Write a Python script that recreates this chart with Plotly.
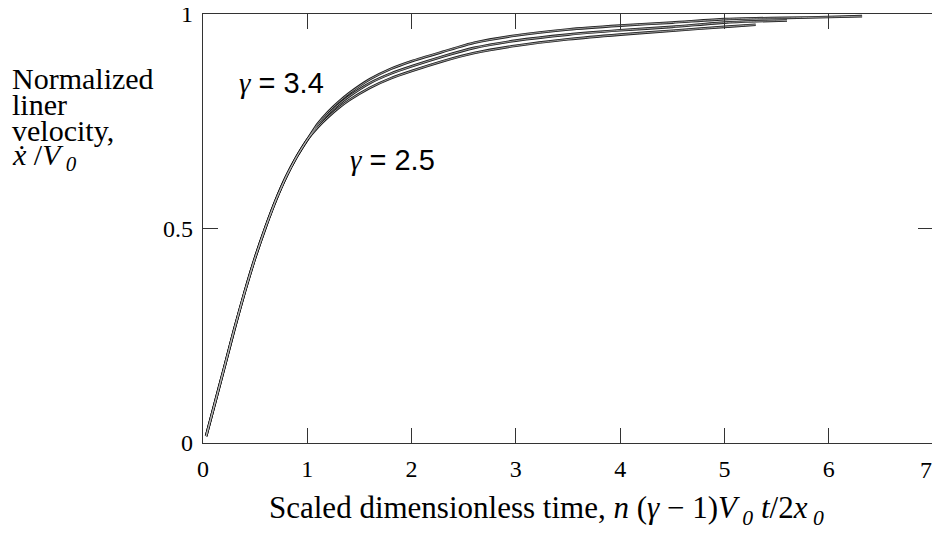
import plotly.graph_objects as go

# scaled dimensionless time
t_all = [0.03, 0.1, 0.2, 0.3, 0.4, 0.5, 0.6, 0.7, 0.8, 0.9, 1.0, 1.1, 1.2, 1.3,
         1.4, 1.6, 1.8, 2.0, 2.3, 2.6, 3.0, 3.5, 4.0, 4.5, 5.0, 5.3, 5.6, 6.0, 6.32]

# normalized liner velocity
v_early = [0.016, 0.08, 0.172, 0.265, 0.352, 0.432, 0.503, 0.567, 0.622, 0.668, 0.707]
v_low = v_early + [0.736, 0.760, 0.781, 0.799, 0.828, 0.850, 0.867, 0.890, 0.909,
                   0.926, 0.941, 0.952, 0.961, 0.970, 0.975]
v_mid = v_early + [0.740, 0.767, 0.789, 0.808, 0.839, 0.861, 0.878, 0.901, 0.921,
                   0.938, 0.952, 0.962, 0.970, 0.980, 0.983, 0.985]
v_top = v_early + [0.744, 0.772, 0.795, 0.815, 0.848, 0.872, 0.890, 0.912, 0.933,
                   0.950, 0.964, 0.973, 0.980, 0.988, 0.990, 0.991, 0.993, 0.995]

x_ticks = [0, 1, 2, 3, 4, 5, 6, 7]
y_ticks = [0, 0.5, 1]
y_title = ["Normalized", "liner", "velocity,", "<i>ẋ</i> /<i>V</i><sub><i> 0</i></sub>"]

serif = "Liberation Serif"
ink = "#1e1e1e"

fig = go.Figure()
for v in [v_low, v_mid, v_top]:
    fig.add_trace(go.Scatter(x=t_all[:len(v)], y=v, mode="lines",
                             line=dict(color=ink, width=2.6, shape="spline", smoothing=0.6),
                             showlegend=False))
for v in [v_low, v_mid, v_top]:
    fig.add_trace(go.Scatter(x=t_all[:len(v)], y=v, mode="lines",
                             line=dict(color="#b8b8b8", width=0.8, shape="spline", smoothing=0.6),
                             showlegend=False))

axis_common = dict(showline=True, linecolor="#333", linewidth=1.4, mirror="ticks",
                   ticks="inside", ticklen=15, tickwidth=1.2, tickcolor="#333",
                   showgrid=False, zeroline=False, automargin=False,
                   ticklabeloverflow="allow",
                   tickfont=dict(family=serif, size=24, color="black"))

# last x label sits at the page edge; it is drawn as an annotation a bit further in
x_text = [str(v) for v in x_ticks[:-1]] + [""]
fig.update_xaxes(range=[0, 7], tickvals=x_ticks, ticktext=x_text, ticklabelstandoff=4,
                 **axis_common)
fig.update_yaxes(range=[0, 1], tickvals=y_ticks, ticktext=["0", "0.5", "1"],
                 ticklabelstandoff=4, **axis_common)
fig.add_annotation(x=x_ticks[-1], yref="paper", y=0, yanchor="top", yshift=-12, xshift=-7,
                   text=str(x_ticks[-1]), showarrow=False,
                   font=dict(family=serif, size=24, color="black"))

gam = "<span style='font-family:Liberation Serif'><i>γ</i></span>"
fig.add_annotation(x=0.75, y=0.84, text=gam + " = 3.4", showarrow=False,
                   font=dict(family="Liberation Sans", size=29, color="black"))
fig.add_annotation(x=1.82, y=0.66, text=gam + " = 2.5", showarrow=False,
                   font=dict(family="Liberation Sans", size=29, color="black"))

# y title: one annotation per line, tight line spacing as in the original
for i, line in enumerate(y_title):
    fig.add_annotation(xref="paper", yref="paper", x=-0.265, y=0.85 - 0.061 * i,
                       xanchor="left", yanchor="middle", align="left", showarrow=False,
                       text=line, font=dict(family=serif, size=30, color="black"))

fig.add_annotation(xref="paper", yref="paper", x=0.47, y=-0.156,
                   xanchor="center", yanchor="middle", showarrow=False,
                   text="Scaled dimensionless time, <i>n</i> (<i>γ</i> − 1)<i>V</i><sub><i> 0</i></sub> <i>t</i>/2<i>x</i><sub><i> 0</i></sub>",
                   font=dict(family=serif, size=31, color="black"))

# page body adds an 8px margin, so the figure is shrunk and shifted back by it
fig.update_layout(width=932, height=526, paper_bgcolor="white", plot_bgcolor="white",
                  margin=dict(l=195, r=7, t=6, b=91))

fig.write_html("out.html")
